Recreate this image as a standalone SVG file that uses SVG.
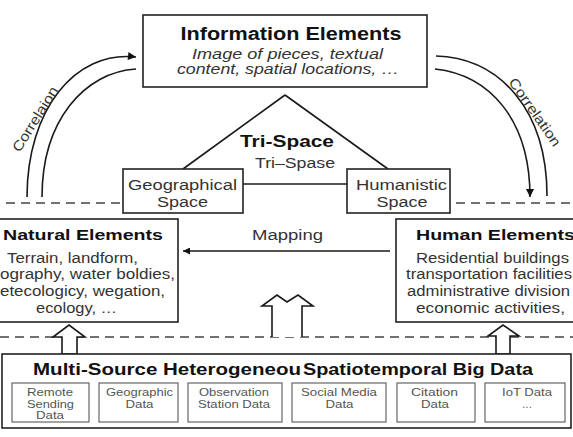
<svg xmlns="http://www.w3.org/2000/svg" width="573" height="437" viewBox="0 0 573 437">
<style>
text{font-family:"Liberation Sans",Arial,sans-serif;}
.box{fill:#fff;stroke:#222;stroke-width:1.6;}
.sub{fill:#fff;stroke:#666;stroke-width:1.2;}
.ln{fill:none;stroke:#1a1a1a;stroke-width:1.6;}
.dash{fill:none;stroke:#444;stroke-width:1.6;stroke-dasharray:9 6;}
.hol{fill:#fff;stroke:#1a1a1a;stroke-width:1.6;stroke-linejoin:miter;}
.t1{font-weight:bold;fill:#111;}
.t2{fill:#333;}
.t3{fill:#555;font-size:10.5px;}
</style>
<defs>
<marker id="ah" viewBox="0 0 10 10" refX="10" refY="5" markerWidth="10" markerHeight="8" markerUnits="userSpaceOnUse" orient="auto">
<path d="M0,0 L10,5 L0,10 z" fill="#111"/>
</marker>
<marker id="ahs" viewBox="0 0 10 10" refX="10" refY="5" markerWidth="8" markerHeight="7" markerUnits="userSpaceOnUse" orient="auto">
<path d="M0,0 L10,5 L0,10 z" fill="#111"/>
</marker>
</defs>

<g id="dashes">
<line class="dash" x1="6" y1="203" x2="120" y2="203"/>
<line class="dash" x1="456" y1="203" x2="573" y2="203"/>
<line class="dash" x1="0" y1="337" x2="573" y2="337"/>
</g>

<g id="connectors">
<path class="ln" d="M27,197 C27,110 75,50 136,57" marker-end="url(#ah)"/>
<path class="ln" d="M42,197 C42,120 85,72 136,69"/>
<path class="ln" d="M436,56 C500,58 547,110 547,196"/>
<path class="ln" d="M435,69 C490,75 530,120 530,197" marker-end="url(#ah)"/>
<line class="ln" x1="285" y1="95" x2="183" y2="169"/>
<line class="ln" x1="285" y1="95" x2="388" y2="169"/>
<line class="ln" x1="243" y1="184" x2="347" y2="184"/>
<line class="ln" x1="390" y1="251" x2="183" y2="251" marker-end="url(#ahs)"/>
<polygon class="hol" points="62,354 62,337 53,337 69,325 85,337 77,337 77,354"/>
<polygon class="hol" points="496,354 496,336 488,336 503,325 519,336 510,336 510,354"/>
<polyline class="hol" points="272,337 272,306 262,306 277,295 287,302 298,295 313,306 302,306 302,337"/>
<text class="t2" font-size="14" text-anchor="middle" transform="translate(35,119) rotate(-58)" y="5" textLength="74" lengthAdjust="spacingAndGlyphs">Correlaion</text>
<text class="t2" font-size="14" text-anchor="middle" transform="translate(535,112) rotate(55)" y="5" textLength="80" lengthAdjust="spacingAndGlyphs">Correlation</text>
<text class="t2" font-size="14" x="287.5" y="240" text-anchor="middle" textLength="71" lengthAdjust="spacingAndGlyphs">Mapping</text>
</g>

<g id="information-elements">
<rect class="box" x="143" y="15" width="284" height="72"/>
<text class="t1" font-size="18" x="291" y="40" text-anchor="middle" textLength="221" lengthAdjust="spacingAndGlyphs">Information Elements</text>
<text class="t2" font-size="14" font-style="italic" x="287.5" y="59" text-anchor="middle" textLength="191" lengthAdjust="spacingAndGlyphs">Image of pieces, textual</text>
<text class="t2" font-size="14" font-style="italic" x="288" y="74" text-anchor="middle" textLength="222" lengthAdjust="spacingAndGlyphs">content, spatial locations, …</text>
</g>

<g id="tri-space">
<text class="t1" font-size="17" x="287" y="147" text-anchor="middle" textLength="94" lengthAdjust="spacingAndGlyphs">Tri-Space</text>
<text class="t2" font-size="14" x="295" y="168" text-anchor="middle" textLength="80" lengthAdjust="spacingAndGlyphs">Tri–Spase</text>
</g>

<g id="geographical-space">
<rect class="box" x="123" y="169" width="120" height="44"/>
<text class="t2" font-size="14" x="182.5" y="190" text-anchor="middle" textLength="109" lengthAdjust="spacingAndGlyphs">Geographical</text>
<text class="t2" font-size="14" x="182.5" y="207" text-anchor="middle" textLength="51" lengthAdjust="spacingAndGlyphs">Space</text>
</g>

<g id="humanistic-space">
<rect class="box" x="347" y="169" width="103" height="44"/>
<text class="t2" font-size="14" x="401.5" y="190" text-anchor="middle" textLength="91" lengthAdjust="spacingAndGlyphs">Humanistic</text>
<text class="t2" font-size="14" x="402" y="207" text-anchor="middle" textLength="51" lengthAdjust="spacingAndGlyphs">Space</text>
</g>

<g id="natural-elements">
<rect class="box" x="-10" y="219" width="188" height="103"/>
<text class="t1" font-size="15.5" x="83" y="240" text-anchor="middle" textLength="160" lengthAdjust="spacingAndGlyphs">Natural Elements</text>
<text class="t2" font-size="14" x="72.5" y="263" text-anchor="middle" textLength="131" lengthAdjust="spacingAndGlyphs">Terrain, landform,</text>
<text class="t2" font-size="14" x="175" y="279" text-anchor="end" textLength="175" lengthAdjust="spacingAndGlyphs">ography, water boldies,</text>
<text class="t2" font-size="14" x="165" y="296" text-anchor="end" textLength="165" lengthAdjust="spacingAndGlyphs">etecologicy, wegation,</text>
<text class="t2" font-size="14" x="76.5" y="313" text-anchor="middle" textLength="81" lengthAdjust="spacingAndGlyphs">ecology, …</text>
</g>

<g id="human-elements">
<rect class="box" x="396" y="219" width="190" height="103"/>
<text class="t1" font-size="15.5" x="416" y="240" textLength="159" lengthAdjust="spacingAndGlyphs">Human Elements</text>
<text class="t2" font-size="14" x="416" y="263" textLength="153" lengthAdjust="spacingAndGlyphs">Residential buildings</text>
<text class="t2" font-size="14" x="406" y="279" textLength="166" lengthAdjust="spacingAndGlyphs">transportation facilities</text>
<text class="t2" font-size="14" x="407" y="296" textLength="163" lengthAdjust="spacingAndGlyphs">administrative division</text>
<text class="t2" font-size="14" x="416" y="313" textLength="149" lengthAdjust="spacingAndGlyphs">economic activities,</text>
</g>

<g id="multi-source-data">
<rect class="box" x="2" y="354" width="569" height="74"/>
<text class="t1" font-size="17" x="33" y="375" textLength="268" lengthAdjust="spacingAndGlyphs">Multi-Source Heterogeneou</text>
<text class="t1" font-size="17" x="303" y="375" textLength="230" lengthAdjust="spacingAndGlyphs">Spatiotemporal Big Data</text>
</g>

<g id="remote-sending-data">
<rect class="sub" x="12" y="383" width="77" height="39"/>
<text class="t3" x="50" y="396" text-anchor="middle" textLength="46" lengthAdjust="spacingAndGlyphs">Remote</text>
<text class="t3" x="50.5" y="407.5" text-anchor="middle" textLength="47" lengthAdjust="spacingAndGlyphs">Sending</text>
<text class="t3" x="50" y="419" text-anchor="middle" textLength="28" lengthAdjust="spacingAndGlyphs">Data</text>
</g>
<g id="geographic-data">
<rect class="sub" x="99" y="383" width="79" height="39"/>
<text class="t3" x="139.5" y="396" text-anchor="middle" textLength="67" lengthAdjust="spacingAndGlyphs">Geographic</text>
<text class="t3" x="139.5" y="407.5" text-anchor="middle" textLength="28" lengthAdjust="spacingAndGlyphs">Data</text>
</g>
<g id="observation-station-data">
<rect class="sub" x="188" y="383" width="94" height="39"/>
<text class="t3" x="234" y="396" text-anchor="middle" textLength="70" lengthAdjust="spacingAndGlyphs">Observation</text>
<text class="t3" x="234" y="407.5" text-anchor="middle" textLength="72" lengthAdjust="spacingAndGlyphs">Station Data</text>
</g>
<g id="social-media-data">
<rect class="sub" x="292" y="383" width="94" height="39"/>
<text class="t3" x="339" y="396" text-anchor="middle" textLength="76" lengthAdjust="spacingAndGlyphs">Social Media</text>
<text class="t3" x="339.5" y="407.5" text-anchor="middle" textLength="28" lengthAdjust="spacingAndGlyphs">Data</text>
</g>
<g id="citation-data">
<rect class="sub" x="397" y="383" width="78" height="39"/>
<text class="t3" x="434.5" y="396" text-anchor="middle" textLength="47" lengthAdjust="spacingAndGlyphs">Citation</text>
<text class="t3" x="435" y="407.5" text-anchor="middle" textLength="28" lengthAdjust="spacingAndGlyphs">Data</text>
</g>
<g id="iot-data">
<rect class="sub" x="485" y="383" width="80" height="39"/>
<text class="t3" x="527" y="396" text-anchor="middle" textLength="50" lengthAdjust="spacingAndGlyphs">IoT Data</text>
<text class="t3" x="527" y="408" text-anchor="middle">…</text>
</g>
</svg>
